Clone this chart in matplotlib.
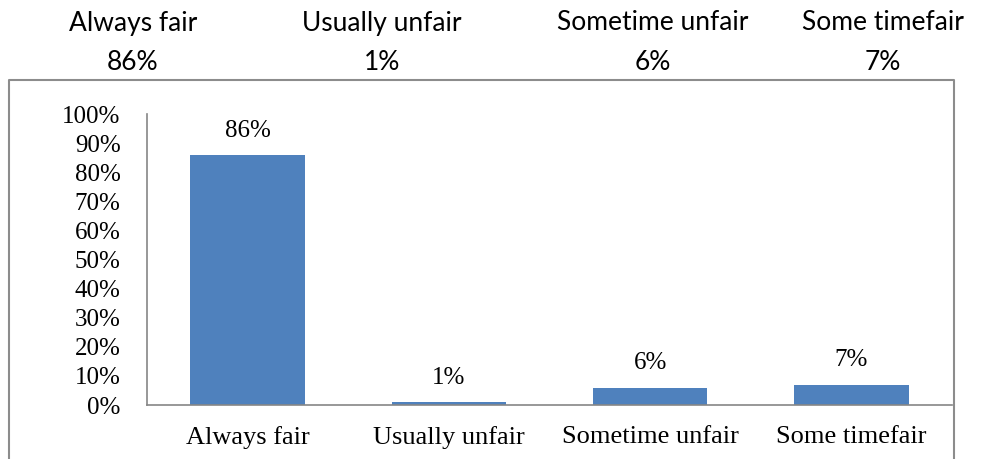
import matplotlib.pyplot as plt
from matplotlib.lines import Line2D

categories = ["Always fair", "Usually unfair", "Sometime unfair", "Some timefair"]
values = [86, 1, 6, 7]
header_x = [133, 382, 653, 883]

W, H = 984, 459
fig = plt.figure(figsize=(W / 100, H / 100), dpi=100)

# header row above the chart box
for cx, cat, v in zip(header_x, categories, values):
    fig.text(cx / W, 1 - 23 / H, cat, ha="center", va="center",
             family="Lato", fontsize=19)
    fig.text(cx / W, 1 - 62 / H, "%d%%" % v, ha="center", va="center",
             family="Lato", fontsize=19)

# grey frame around the chart (bottom edge falls off the picture)
grey = "#8c8c8c"
fx = [9 / W, 9 / W, 954 / W, 954 / W]
fy = [0, 1 - 80 / H, 1 - 80 / H, 0]
fig.add_artist(Line2D(fx, fy, color=grey, lw=1.5, transform=fig.transFigure))

ax = fig.add_axes([147 / W, 54 / H, (952 - 147) / W, (405 - 114.3) / H])
x = range(len(categories))
bars = ax.bar(x, values, width=0.57, color="#4F81BD")
for b, v in zip(bars, values):
    ax.annotate("%d%%" % v, (b.get_x() + b.get_width() / 2, v),
                xytext=(0, 9.5), textcoords="offset points",
                ha="center", va="bottom", family="Liberation Serif", fontsize=18)

ax.set_xlim(-0.5, len(categories) - 0.5)
ax.set_ylim(0, 100)
ax.set_yticks(range(0, 101, 10))
ax.set_yticklabels(["%d%%" % t for t in range(0, 101, 10)])
ax.set_xticks(list(x))
ax.set_xticklabels(categories)
for lab in ax.get_yticklabels():
    lab.set_family("Liberation Serif")
    lab.set_fontsize(18)
for lab in ax.get_xticklabels():
    lab.set_family("Liberation Serif")
    lab.set_fontsize(19)
ax.tick_params(axis="y", length=0, pad=19)
ax.tick_params(axis="x", length=0, pad=15)
for s in ["top", "right"]:
    ax.spines[s].set_visible(False)
for s in ["left", "bottom"]:
    ax.spines[s].set_color("#868686")
    ax.spines[s].set_linewidth(1.2)

fig.savefig("out.png", dpi=100)
